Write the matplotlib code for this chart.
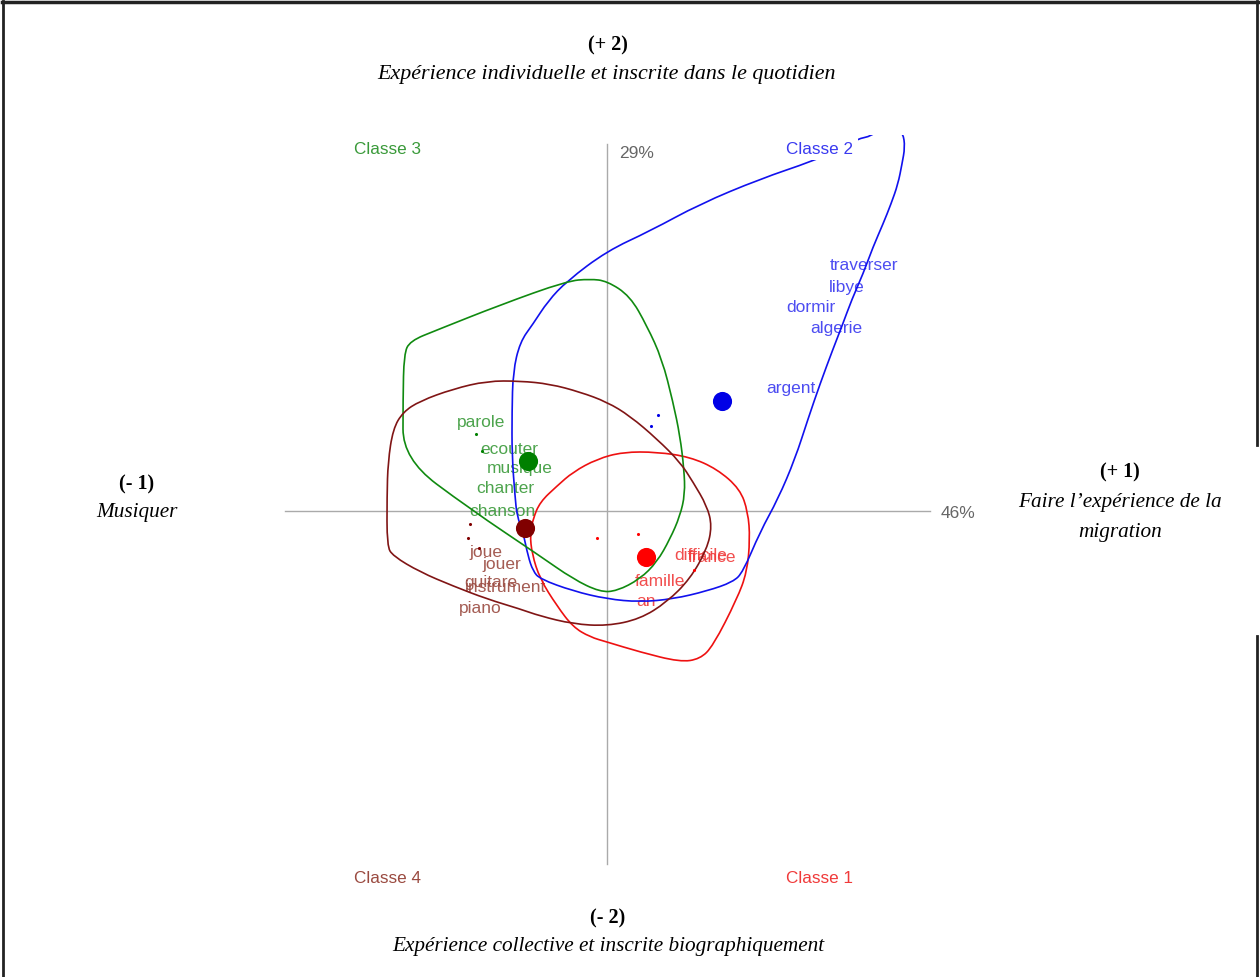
import matplotlib
matplotlib.use("Agg")
import matplotlib.pyplot as plt
from matplotlib.path import Path
from matplotlib.patches import PathPatch
import numpy as np

# ---------------- data (factor-plane coordinates) ----------------
axis_pct_x = "46%"
axis_pct_y = "29%"

class_names = ["Classe 1", "Classe 2", "Classe 3", "Classe 4"]

# words per class (label, x, y)
words_c1 = ["difficile", "france", "famille", "an"]
x_c1 = [0.94, 1.05, 0.53, 0.39]
y_c1 = [-0.44, -0.45, -0.69, -0.90]

words_c2 = ["traverser", "libye", "dormir", "algerie", "argent"]
x_c2 = [2.57, 2.40, 2.04, 2.29, 1.84]
y_c2 = [2.47, 2.24, 2.05, 1.84, 1.24]

words_c3 = ["parole", "ecouter", "musique", "chanter", "chanson"]
x_c3 = [-1.26, -0.98, -0.87, -1.02, -1.05]
y_c3 = [0.90, 0.62, 0.43, 0.23, 0.00]

words_c4 = ["joue", "jouer", "guitare", "instrument", "piano"]
x_c4 = [-1.21, -1.05, -1.16, -1.01, -1.27]
y_c4 = [-0.41, -0.52, -0.71, -0.76, -0.96]

# class centroids (big dots)
cent_x = [0.39, 1.15, -0.79, -0.82]
cent_y = [-0.46, 1.10, 0.50, -0.17]

# small points (individual observations)
pts_c1_x = [-0.10, 0.31, 0.87]
pts_c1_y = [-0.27, -0.23, -0.59]
pts_c2_x = [0.44, 0.51]
pts_c2_y = [0.85, 0.96]
pts_c3_x = [-1.31, -1.25]
pts_c3_y = [0.77, 0.60]
pts_c4_x = [-1.37, -1.39, -1.28]
pts_c4_y = [-0.13, -0.27, -0.37]

# class envelopes
hull_c1_x = [-0.67, -0.74, -0.77, -0.75, -0.67, -0.50, -0.34, -0.17, 0.00, 0.33, 0.73, 0.93,
             1.06, 1.30, 1.40, 1.43, 1.41, 1.33, 1.10, 0.83, 0.50, 0.16, -0.10, -0.34, -0.50]
hull_c1_y = [0.09, -0.08, -0.23, -0.43, -0.68, -0.95, -1.16, -1.26, -1.31, -1.41, -1.51, -1.48,
             -1.35, -0.88, -0.61, -0.28, -0.01, 0.22, 0.42, 0.54, 0.59, 0.59, 0.52, 0.39, 0.25]

hull_c2_x = [-0.92, -0.95, -0.95, -0.94, -0.87, -0.74, -0.59, -0.40, 0.00, 0.43, 0.93, 1.53,
             2.06, 2.33, 2.50, 2.65, 2.73, 2.88, 2.96, 2.98, 2.95, 2.91, 2.84, 2.76, 2.66,
             2.56, 2.45, 2.35, 2.26, 2.13, 2.01, 1.88, 1.71, 1.53, 1.36, 1.26, 1.00, 0.66,
             0.33, 0.00, -0.34, -0.67, -0.74, -0.79, -0.84, -0.90]
hull_c2_y = [0.15, 0.55, 0.99, 1.39, 1.69, 1.87, 2.10, 2.30, 2.60, 2.80, 3.07, 3.32,
             3.50, 3.62, 3.72, 3.75, 3.84, 3.85, 3.78, 3.64, 3.47, 3.27, 3.07, 2.87, 2.64,
             2.37, 2.12, 1.85, 1.62, 1.27, 0.92, 0.52, 0.12, -0.21, -0.61, -0.71, -0.80, -0.88,
             -0.91, -0.88, -0.80, -0.68, -0.60, -0.45, -0.21, -0.05]

hull_c3_x = [-2.04, -2.04, -2.03, -1.97, -1.70, -1.07, -0.40, -0.17, 0.00, 0.23, 0.40, 0.55,
             0.66, 0.73, 0.77, 0.78, 0.73, 0.63, 0.50, 0.33, 0.10, -0.07, -0.34, -0.67, -1.37]
hull_c3_y = [0.52, 1.12, 1.57, 1.70, 1.81, 2.06, 2.30, 2.32, 2.30, 2.15, 1.85, 1.52,
             1.09, 0.75, 0.42, 0.17, -0.05, -0.28, -0.51, -0.68, -0.80, -0.81, -0.68, -0.45, 0.02]

hull_c4_x = [-0.87, -1.20, -1.54, -1.87, -2.04, -2.14, -2.19, -2.20, -2.20, -2.14, -1.87, -1.54,
             -1.20, -0.87, -0.67, -0.34, 0.00, 0.33, 0.60, 0.83, 1.00, 1.05, 1.00, 0.86, 0.73,
             0.50, 0.23, 0.00, -0.27, -0.57]
hull_c4_y = [1.30, 1.30, 1.22, 1.10, 0.99, 0.82, 0.49, 0.15, -0.35, -0.45, -0.61, -0.75,
             -0.88, -0.98, -1.05, -1.13, -1.15, -1.08, -0.91, -0.68, -0.38, -0.15, 0.05, 0.29, 0.49,
             0.72, 0.95, 1.09, 1.19, 1.27]

# positions of class labels (corners of the plane)
label_x = [2.13, 2.13, -2.19, -2.19]
label_y = [-3.67, 3.63, 3.63, -3.67]

# ---------------- styles ----------------
line_col = ["#ee1111", "#1111ee", "#108a10", "#801515"]
text_col = ["#f03a3a", "#3a3af0", "#3a9a3a", "#9a4a40"]
dot_col = ["#ff0000", "#0000e6", "#008000", "#800000"]

W, H = 1260, 978
fig = plt.figure(figsize=(W / 100, H / 100), dpi=100)
fig.patch.set_facecolor("white")

# plot region (pixels)
px0, px1, py0, py1 = 270, 990, 136, 895
ax = fig.add_axes([px0 / W, 1 - py1 / H, (px1 - px0) / W, (py1 - py0) / H])
ax.set_xlim(-3.37, 3.83)
ax.set_ylim(-3.83, 3.76)
ax.axis("off")

# axes of the factor plane
ax.plot([-3.22, 3.23], [0, 0], color="#aaaaaa", lw=1.0, zorder=1)
ax.plot([0, 0], [-3.53, 3.67], color="#aaaaaa", lw=1.0, zorder=1)
ax.text(3.51, -0.02, axis_pct_x, color="#666666", fontsize=12.5,
        family="Liberation Sans", ha="center", va="center")
ax.text(0.30, 3.59, axis_pct_y, color="#666666", fontsize=12.5,
        family="Liberation Sans", ha="center", va="center")

words = [words_c1, words_c2, words_c3, words_c4]
wx = [x_c1, x_c2, x_c3, x_c4]
wy = [y_c1, y_c2, y_c3, y_c4]
px_ = [pts_c1_x, pts_c2_x, pts_c3_x, pts_c4_x]
py_ = [pts_c1_y, pts_c2_y, pts_c3_y, pts_c4_y]
hx = [hull_c1_x, hull_c2_x, hull_c3_x, hull_c4_x]
hy = [hull_c1_y, hull_c2_y, hull_c3_y, hull_c4_y]


def smooth_closed(xs, ys):
    """Closed quadratic-Bezier path with the envelope points as control points."""
    pts = np.column_stack([xs, ys])
    mids = (pts + np.roll(pts, -1, axis=0)) / 2
    verts = [mids[-1]]
    codes = [Path.MOVETO]
    for i in range(len(pts)):
        verts += [pts[i], mids[i]]
        codes += [Path.CURVE3, Path.CURVE3]
    return Path(verts, codes)


for k in range(4):
    for w, x, y in zip(words[k], wx[k], wy[k]):
        ax.text(x, y, w, color=text_col[k], fontsize=12.5, family="Liberation Sans",
                ha="center", va="center", zorder=2, alpha=0.9)
    ax.add_patch(PathPatch(smooth_closed(hx[k], hy[k]), fill=False,
                           edgecolor=line_col[k], lw=1.2, zorder=3))
    ax.scatter(px_[k], py_[k], s=5, color=dot_col[k], zorder=4, linewidths=0)
    ax.scatter([cent_x[k]], [cent_y[k]], s=190, color=dot_col[k], zorder=5, linewidths=0)
    ax.text(label_x[k], label_y[k], class_names[k], color=text_col[k], fontsize=12.3,
            family="Liberation Sans", ha="center", va="center", zorder=6,
            bbox=dict(facecolor="white", edgecolor="none", pad=3))

# ---------------- outer annotations ----------------
serif = "Liberation Serif"


def ftext(x, y, s, **kw):
    fig.text(x / W, 1 - y / H, s, ha="center", va="center", family=serif, **kw)


ftext(608, 45, "(+ 2)", fontsize=14.5, weight="bold")
ftext(607, 75, "Expérience individuelle et inscrite dans le quotidien", fontsize=15.8, style="italic")
ftext(608, 918, "(- 2)", fontsize=14.5, weight="bold")
ftext(608, 947, "Expérience collective et inscrite biographiquement", fontsize=15.3, style="italic")
ftext(137, 484, "(- 1)", fontsize=14.5, weight="bold")
ftext(137, 513, "Musiquer", fontsize=15.3, style="italic")
ftext(1120, 472, "(+ 1)", fontsize=14.5, weight="bold")
ftext(1120, 503, "Faire l\u2019expérience de la", fontsize=15.3, style="italic")
ftext(1120, 532, "migration", fontsize=15.3, style="italic")

# ---------------- frame ----------------
def fline(xs, ys, lw):
    fig.add_artist(plt.Line2D([v / W for v in xs], [1 - v / H for v in ys],
                              color="#222222", lw=lw, transform=fig.transFigure))


fline([2, 1258], [3, 3], 2.5)
fline([3, 3], [2, 978], 2.0)
fline([1257, 1257], [2, 446], 2.0)
fline([1257, 1257], [637, 978], 2.0)

fig.savefig("out.png", dpi=100, facecolor="white")
